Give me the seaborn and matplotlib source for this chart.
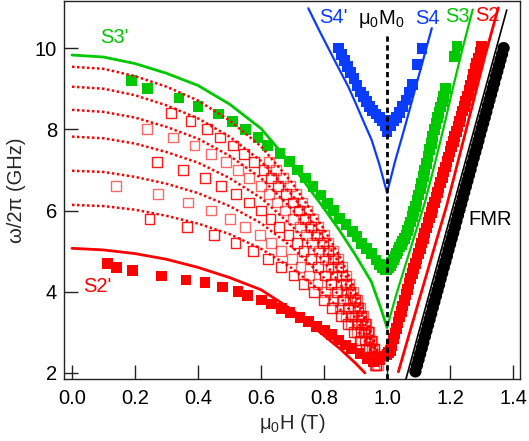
import matplotlib
matplotlib.use("Agg")
import matplotlib.pyplot as plt
import seaborn as sns

# ---------------- data ----------------
# uniform mode (FMR), black circles
fmr_H = [1.090, 1.095, 1.100, 1.105, 1.110, 1.115, 1.120, 1.125, 1.130, 1.135,
         1.140, 1.145, 1.150, 1.155, 1.160, 1.165, 1.170, 1.175, 1.180, 1.185,
         1.190, 1.195, 1.200, 1.205, 1.210, 1.215, 1.220, 1.225, 1.230, 1.235,
         1.240, 1.245, 1.250, 1.255, 1.260, 1.265, 1.270, 1.275, 1.280, 1.285,
         1.290, 1.295, 1.300, 1.305, 1.310, 1.315, 1.320, 1.325, 1.330, 1.335,
         1.340, 1.345, 1.350, 1.355, 1.360, 1.365, 1.370]
fmr_f = [2.04, 2.19, 2.33, 2.47, 2.61, 2.75, 2.90, 3.04, 3.18, 3.32,
         3.46, 3.61, 3.75, 3.89, 4.03, 4.17, 4.32, 4.46, 4.60, 4.74,
         4.88, 5.03, 5.17, 5.31, 5.45, 5.59, 5.74, 5.88, 6.02, 6.16,
         6.30, 6.45, 6.59, 6.73, 6.87, 7.01, 7.16, 7.30, 7.44, 7.58,
         7.72, 7.87, 8.01, 8.15, 8.29, 8.43, 8.58, 8.72, 8.86, 9.00,
         9.14, 9.29, 9.43, 9.57, 9.71, 9.85, 10.00]
fmr_fit_H = [1.06, 1.38]
fmr_fit_f = [1.85, 10.94]

# S2' / S2 mode, red filled squares
s2_left_H = [0.112, 0.142, 0.191, 0.285, 0.362, 0.422, 0.478, 0.527, 0.557, 0.602,
             0.634, 0.666, 0.692, 0.724, 0.750, 0.777, 0.803, 0.824, 0.845, 0.867,
             0.888, 0.914, 0.936, 0.957, 0.975, 0.990]
s2_left_f = [4.70, 4.60, 4.52, 4.39, 4.29, 4.22, 4.12, 4.00, 3.90, 3.80,
             3.70, 3.59, 3.49, 3.37, 3.26, 3.14, 3.06, 2.94, 2.81, 2.69,
             2.61, 2.48, 2.36, 2.28, 2.32, 2.42]
s2_right_H = [1.000, 1.005, 1.010, 1.015, 1.020, 1.025, 1.030, 1.035, 1.040, 1.045,
              1.050, 1.055, 1.060, 1.065, 1.070, 1.075, 1.080, 1.085, 1.090, 1.095,
              1.100, 1.105, 1.110, 1.115, 1.120, 1.125, 1.130, 1.135, 1.140, 1.145,
              1.150, 1.155, 1.160, 1.165, 1.170, 1.175, 1.180, 1.185, 1.190, 1.195,
              1.200, 1.205, 1.210, 1.215, 1.220, 1.225, 1.230, 1.235, 1.240, 1.245,
              1.250, 1.255, 1.260, 1.265, 1.270, 1.275, 1.280, 1.285, 1.290, 1.295,
              1.300]
s2_right_f = [2.45, 2.50, 2.55, 2.68, 2.85, 2.97, 3.10, 3.25, 3.40, 3.52,
              3.65, 3.79, 3.93, 4.06, 4.20, 4.32, 4.45, 4.57, 4.70, 4.82,
              4.95, 5.07, 5.20, 5.32, 5.45, 5.57, 5.70, 5.82, 5.95, 6.07,
              6.20, 6.32, 6.45, 6.57, 6.70, 6.82, 6.95, 7.07, 7.20, 7.32,
              7.45, 7.57, 7.70, 7.82, 7.95, 8.07, 8.20, 8.32, 8.45, 8.57,
              8.70, 8.82, 8.95, 9.07, 9.20, 9.35, 9.50, 9.62, 9.75, 9.90,
              10.05]
s2p_calc_H = [0.0, 0.1, 0.2, 0.3, 0.4, 0.5, 0.6, 0.7, 0.8, 0.85, 0.9, 0.93]
s2p_calc_f = [5.07, 5.03, 4.94, 4.80, 4.60, 4.35, 4.05, 3.55, 2.92, 2.60, 2.24, 2.00]
s2_calc_H = [1.036, 1.07, 1.10, 1.13, 1.16, 1.19, 1.22, 1.25, 1.28, 1.31, 1.353]
s2_calc_f = [2.03, 2.95, 3.75, 4.55, 5.35, 6.14, 7.05, 7.96, 8.87, 9.78, 10.99]

# S3' / S3 mode, green filled squares
s3_left_H = [0.19, 0.24, 0.34, 0.40, 0.465, 0.51, 0.55, 0.59, 0.62, 0.66, 0.69,
             0.715, 0.74, 0.765, 0.79, 0.81, 0.83, 0.85, 0.87, 0.89, 0.905, 0.92,
             0.935, 0.95, 0.965, 0.975, 0.985, 0.995]
s3_left_f = [9.20, 9.00, 8.77, 8.57, 8.38, 8.19, 7.99, 7.80, 7.60, 7.41, 7.20,
             7.00, 6.80, 6.59, 6.38, 6.18, 6.01, 5.81, 5.65, 5.48, 5.36, 5.19,
             5.07, 4.95, 4.78, 4.68, 4.60, 4.55]
s3_right_H = [1.000, 1.005, 1.010, 1.015, 1.020, 1.025, 1.030, 1.035, 1.040, 1.045,
              1.050, 1.055, 1.060, 1.065, 1.070, 1.075, 1.080, 1.085, 1.090, 1.095,
              1.100, 1.105, 1.110, 1.115, 1.120, 1.125, 1.130, 1.135, 1.140, 1.145,
              1.150, 1.155, 1.160, 1.165, 1.170, 1.175, 1.180, 1.185, 1.215, 1.222]
s3_right_f = [4.55, 4.60, 4.65, 4.72, 4.80, 4.87, 4.95, 5.02, 5.10, 5.17,
              5.25, 5.32, 5.40, 5.50, 5.60, 5.72, 5.85, 5.97, 6.10, 6.24,
              6.38, 6.53, 6.68, 6.84, 7.00, 7.16, 7.33, 7.50, 7.66, 7.83,
              8.00, 8.15, 8.30, 8.42, 8.55, 8.67, 8.80, 9.00, 9.80, 10.05]
s3p_calc_H = [0.0, 0.1, 0.2, 0.3, 0.4, 0.5, 0.6, 0.7, 0.8, 0.85, 0.9, 0.95, 0.98, 1.0]
s3p_calc_f = [9.83, 9.78, 9.62, 9.38, 9.08, 8.62, 8.02, 7.10, 6.05, 5.50, 4.90, 4.25, 3.60, 3.12]
s3_calc_H = [1.0, 1.03, 1.06, 1.09, 1.12, 1.15, 1.18, 1.21, 1.24, 1.272]
s3_calc_f = [3.12, 3.95, 4.70, 5.45, 6.20, 7.10, 8.05, 9.05, 10.0, 10.95]

# S4' / S4 mode, blue filled squares
s4_H = [0.845, 0.855, 0.865, 0.875, 0.885, 0.895, 0.905, 0.915, 0.925, 0.935,
        0.945, 0.955, 0.965, 0.975, 0.985, 0.995, 1.0, 1.01, 1.02, 1.03, 1.04,
        1.05, 1.06, 1.07, 1.08, 1.095, 1.111]
s4_f = [10.0, 9.85, 9.70, 9.55, 9.40, 9.25, 9.08, 8.92, 8.80, 8.68,
        8.56, 8.46, 8.38, 8.30, 8.22, 8.10, 7.94, 8.10, 8.22, 8.30, 8.42,
        8.56, 8.72, 8.90, 9.10, 9.60, 9.99]
s4p_calc_H = [0.75, 0.787, 0.85, 0.877, 0.90, 0.925, 0.951, 0.975, 1.0]
s4p_calc_f = [10.98, 10.40, 9.45, 9.05, 8.65, 8.20, 7.74, 7.15, 6.44]
s4_calc_H = [1.0, 1.025, 1.057, 1.10, 1.142]
s4_calc_f = [6.44, 7.20, 8.07, 9.30, 10.49]

# higher-order modes: calculated (dotted) and measured (open squares)
calc_H = [0.0, 0.1, 0.2, 0.3, 0.4, 0.5, 0.6, 0.7, 0.8, 0.85, 0.9, 0.94, 0.97]
mode_calc_f = {
    "A": [9.54, 9.49, 9.31, 9.05, 8.71, 8.22, 7.58, 6.67, 5.54, 4.87, 4.04, 3.21, 2.53],
    "B": [9.05, 9.00, 8.84, 8.59, 8.27, 7.82, 7.22, 6.37, 5.31, 4.68, 3.90, 3.13, 2.49],
    "C": [8.48, 8.43, 8.29, 8.06, 7.77, 7.35, 6.80, 6.02, 5.05, 4.46, 3.75, 3.04, 2.45],
    "D": [7.82, 7.78, 7.65, 7.44, 7.18, 6.80, 6.31, 5.61, 4.74, 4.21, 3.57, 2.93, 2.41],
    "E": [6.98, 6.95, 6.83, 6.66, 6.43, 6.11, 5.69, 5.09, 4.34, 3.89, 3.34, 2.80, 2.35],
    "F": [6.14, 6.11, 6.02, 5.87, 5.68, 5.42, 5.06, 4.57, 3.95, 3.57, 3.12, 2.66, 2.29],
}
sweep_f = [8.4, 8.2, 8.0, 7.8, 7.6, 7.4, 7.2, 7.0, 6.8, 6.6, 6.4, 6.2, 6.0, 5.8,
           5.6, 5.4, 5.2, 5.0, 4.8, 4.6, 4.4, 4.2, 4.0, 3.8, 3.6, 3.4, 3.2, 3.0,
           2.8, 2.6, 2.4, 2.2]
mode_sweep = {"A": (6, 31), "B": (0, 31), "C": (2, 32),
              "D": (6, 32), "E": (9, 32), "F": (13, 32)}
mode_meas_H = {
    "A": [0.625, 0.648, 0.670, 0.692, 0.711, 0.729, 0.747, 0.764, 0.782, 0.800,
          0.814, 0.829, 0.844, 0.857, 0.869, 0.881, 0.893, 0.904, 0.914, 0.923,
          0.933, 0.942, 0.951, 0.960, 0.969],
    "B": [0.313, 0.376, 0.428, 0.471, 0.511, 0.545, 0.578, 0.608, 0.632, 0.655,
          0.679, 0.702, 0.721, 0.740, 0.759, 0.777, 0.797, 0.813, 0.829, 0.844,
          0.858, 0.871, 0.884, 0.897, 0.908, 0.918, 0.929, 0.939, 0.948, 0.958,
          0.967],
    "C": [0.237, 0.320, 0.389, 0.440, 0.488, 0.527, 0.562, 0.599, 0.625, 0.651,
          0.677, 0.702, 0.723, 0.743, 0.763, 0.784, 0.804, 0.821, 0.838, 0.855,
          0.868, 0.882, 0.896, 0.908, 0.920, 0.931, 0.942, 0.952, 0.962, 0.972],
    "D": [0.271, 0.353, 0.422, 0.474, 0.520, 0.561, 0.601, 0.630, 0.658, 0.687,
          0.713, 0.735, 0.758, 0.781, 0.803, 0.822, 0.842, 0.859, 0.875, 0.890,
          0.904, 0.917, 0.929, 0.942, 0.953, 0.965],
    "E": [0.139, 0.274, 0.369, 0.442, 0.502, 0.549, 0.596, 0.631, 0.664, 0.698,
          0.725, 0.752, 0.779, 0.804, 0.827, 0.849, 0.868, 0.886, 0.903, 0.918,
          0.932, 0.946, 0.960],
    "F": [0.246, 0.364, 0.451, 0.519, 0.575, 0.623, 0.663, 0.703, 0.735, 0.767,
          0.799, 0.826, 0.853, 0.875, 0.896, 0.915, 0.932, 0.949, 0.965],
}

mu0M0 = 1.0
mu0M0_span = [1.85, 10.33]

x_ticks = [0.0, 0.2, 0.4, 0.6, 0.8, 1.0, 1.2, 1.4]
x_tick_labels = ["0.0", "0.2", "0.4", "0.6", "0.8", "1.0", "1.2", "1.4"]
y_ticks = [2, 4, 6, 8, 10]
y_tick_labels = ["2", "4", "6", "8", "10"]

# ---------------- style ----------------
RED = "#ff0000"
GREEN = "#00c800"
BLUE = "#0a3cff"
BLACK = "#000000"

sns.set_style("ticks")
plt.rcParams["font.family"] = ["Liberation Sans", "DejaVu Sans"]
plt.rcParams["mathtext.fontset"] = "custom"
plt.rcParams["mathtext.rm"] = "Liberation Sans"
plt.rcParams["mathtext.it"] = "Liberation Sans:italic"
FS = 14.5

fig = plt.figure(figsize=(5.29, 4.41), dpi=100)
ax = fig.add_axes([64 / 529, 1 - 379 / 441, 456 / 529, 378 / 441])


def curve(h, f, color, lw, z, ls="-"):
    sns.lineplot(x=h, y=f, ax=ax, color=color, linewidth=lw, sort=False,
                 estimator=None, zorder=z, linestyle=ls)


def filled(h, f, color, size, z, marker="s"):
    sns.scatterplot(x=h, y=f, ax=ax, marker=marker, s=size, color=color,
                    edgecolor="none", linewidth=0, zorder=z, legend=False)


# measured higher-order modes (open squares)
for i, (name, hs) in enumerate(mode_meas_H.items()):
    a, b = mode_sweep[name]
    sns.scatterplot(x=hs, y=sweep_f[a:b], ax=ax, marker="s", s=50,
                    facecolor="none", edgecolor=RED, linewidth=1.0,
                    alpha=0.6 if i % 2 == 0 else 0.9, zorder=2, legend=False)

# filled-square branches
filled(s2_left_H + s2_right_H, s2_left_f + s2_right_f, RED, 60, 3)
filled(s3_left_H + s3_right_H, s3_left_f + s3_right_f, GREEN, 60, 3)
filled(s4_H, s4_f, BLUE, 60, 3)

# calculated higher-order modes (dotted)
for name, fs in mode_calc_f.items():
    curve(calc_H, fs, RED, 1.8, 4, ls=(0, (1.0, 1.0)))

# calculated branches
curve(fmr_fit_H, fmr_fit_f, BLACK, 1.2, 4)
curve(s2p_calc_H, s2p_calc_f, RED, 2.0, 5)
curve(s2_calc_H, s2_calc_f, RED, 2.0, 5)
curve(s3p_calc_H, s3p_calc_f, GREEN, 2.0, 5)
curve(s3_calc_H, s3_calc_f, GREEN, 1.6, 5)
curve(s4p_calc_H, s4p_calc_f, BLUE, 1.6, 5)
curve(s4_calc_H, s4_calc_f, BLUE, 1.6, 5)

# FMR data
filled(fmr_H, fmr_f, BLACK, 78, 6, marker="o")

# saturation field
curve([mu0M0, mu0M0], mu0M0_span, BLACK, 2.0, 7, ls=(0, (1.9, 1.3)))

# branch labels
ax.text(0.133, 10.25, "S3'", color=GREEN, fontsize=FS, ha="center", va="center")
ax.text(0.08, 4.12, "S2'", color=RED, fontsize=FS, ha="center", va="center")
ax.text(0.83, 10.75, "S4'", color=BLUE, fontsize=FS, ha="center", va="center")
ax.text(0.98, 10.72, r"μ$_0$M$_0$", color=BLACK, fontsize=FS, ha="center", va="center")
ax.text(1.127, 10.74, "S4", color=BLUE, fontsize=FS, ha="center", va="center")
ax.text(1.222, 10.77, "S3", color=GREEN, fontsize=FS, ha="center", va="center")
ax.text(1.32, 10.8, "S2", color=RED, fontsize=FS, ha="center", va="center")
ax.text(1.327, 5.77, "FMR", color=BLACK, fontsize=FS, ha="center", va="center")

# axes
ax.set_xlim(-0.0254, 1.422)
ax.set_ylim(1.852, 11.16)
ax.set_xticks(x_ticks)
ax.set_xticklabels(x_tick_labels)
ax.set_yticks(y_ticks)
ax.set_yticklabels(y_tick_labels)
ax.tick_params(direction="in", length=10, width=1.0, colors="#222222",
               labelsize=FS, labelcolor=BLACK)
ax.tick_params(axis="x", pad=7)
ax.tick_params(axis="y", pad=5)
for sp in ax.spines.values():
    sp.set_visible(True)
    sp.set_linewidth(1.0)
    sp.set_color("#222222")
ax.set_xlabel(r"μ$_0$H (T)", fontsize=FS, labelpad=3)
ax.set_ylabel("ω/2π (GHz)", fontsize=FS, labelpad=6)

fig.savefig("out.png", dpi=100)
